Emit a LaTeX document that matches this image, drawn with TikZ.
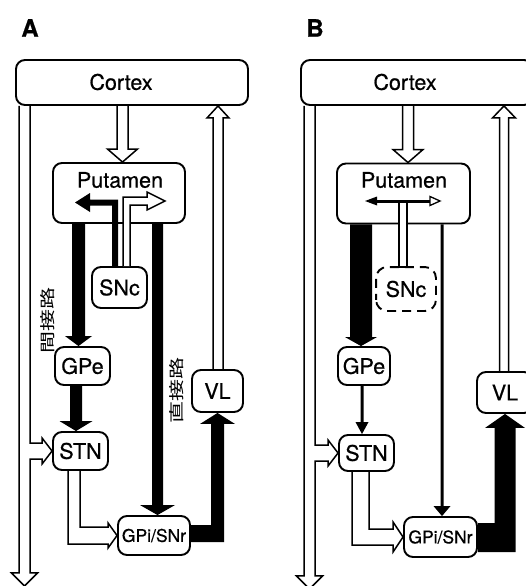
\documentclass[tikz,border=0pt]{standalone}
\usepackage{fontspec}
\setmainfont{TeX Gyre Heros}[FakeBold=0.6]
\newfontfamily\jpfont{Noto Sans CJK JP}
\usetikzlibrary{calc}
\pgfdeclarelayer{bg}
\pgfsetlayers{bg,main}
\newcommand\fsbig{\fontsize{21.5}{21.5}\selectfont}
\newcommand\fssmall{\fontsize{17.5}{17.5}\selectfont}
\tikzset{
  box/.style={draw, line width=1.9pt, rounded corners=9pt, inner sep=0pt, font=\fsbig},
  txt/.style={inner sep=0pt, font=\fsbig},
  hollowline/.style={draw=black, fill=white, line width=1.5pt, line join=miter},
  panlabel/.style={inner sep=0pt, font=\bfseries\fontsize{24}{24}\selectfont},
  jp/.style={inner sep=0pt, rotate=90, font=\jpfont\fontsize{22}{22}\selectfont},
}
\newcommand\hollowarrow[5]{%
  \coordinate (ha-h) at ($(#2)!#5!(#1)$);
  \filldraw[hollowline] ($(#1)!#3!90:(#2)$) -- ($(ha-h)!#3!90:(#2)$) -- ($(ha-h)!#4!90:(#2)$) -- (#2) -- ($(ha-h)!#4!-90:(#2)$) -- ($(ha-h)!#3!-90:(#2)$) -- ($(#1)!#3!-90:(#2)$);}
\newcommand\blackarrow[5]{%
  \coordinate (ba-h) at ($(#2)!#5!(#1)$);
  \fill[black] ($(#1)!#3!90:(#2)$) -- ($(ba-h)!#3!90:(#2)$) -- ($(ba-h)!#4!90:(#2)$) -- (#2) -- ($(ba-h)!#4!-90:(#2)$) -- ($(ba-h)!#3!-90:(#2)$) -- ($(#1)!#3!-90:(#2)$) -- cycle;}
\begin{document}
\begin{tikzpicture}[x=1pt,y=-1pt]
\useasboundingbox (0,0) rectangle (525,586);

% ---------------- Panel A ----------------
\node[panlabel] (labA) at (30,28) {A};
\node[box, minimum width=232pt, minimum height=45pt] (cortA) at (132,82.5) {};
\node[txt] (cortAt) at (121,82) {Cortex};
\node[box, minimum width=132pt, minimum height=60pt] (putA) at (119,193) {};
\node[txt] (putAt) at (120,180) {Putamen};
\node[box, minimum width=55pt, minimum height=41pt] (sncA) at (119.5,287.5) {SNc};
\node[box, minimum width=55pt, minimum height=38pt] (gpeA) at (82.5,366) {GPe};
\node[box, minimum width=55pt, minimum height=38pt] (stnA) at (80.5,451) {STN};
\node[box, minimum width=72pt, minimum height=39pt, font=\fssmall] (gpiA) at (154,535.5) {GPi/SNr};
\node[box, minimum width=51pt, minimum height=42pt] (vlA) at (217.5,391) {VL};
\node[jp] (indA) at (48,320) {\scalebox{1}[0.7]{間接路}};
\node[jp] (dirA) at (177,390) {\scalebox{1}[0.7]{直接路}};

\begin{pgfonlayer}{bg}
% Cortex -> Putamen
\coordinate (xA1) at (122.5,0);
\coordinate (a1s) at (cortA.south -| xA1);
\coordinate (a1t) at (putA.north -| xA1);
\hollowarrow{a1s}{a1t}{5.5pt}{15pt}{13pt}
% VL -> Cortex
\coordinate (xA2) at (218,0);
\coordinate (a2s) at (vlA.north -| xA2);
\coordinate (a2t) at (cortA.south -| xA2);
\hollowarrow{a2s}{a2t}{5pt}{11pt}{12pt}
% trunk with branch to STN
\coordinate (trA) at (24.5,0);
\coordinate (TA) at (cortA.south -| trA);
\filldraw[hollowline] ($(TA)+(-5.5,0)$) -- ($(TA)+(-5.5,467)$) -- ($(TA)+(-13,467)$) -- ($(TA)+(0,480)$) -- ($(TA)+(13,467)$) -- ($(TA)+(5.5,467)$)
  -- ($(stnA.west -| TA)+(5.5,8)$) -- ($(stnA.west)+(-10,8)$) -- ($(stnA.west)+(-10,13)$) -- (stnA.west)
  -- ($(stnA.west)+(-10,-13)$) -- ($(stnA.west)+(-10,-8)$) -- ($(stnA.west -| TA)+(5.5,-8)$) -- ($(TA)+(5.5,0)$);
% Putamen -> GPe
\coordinate (xA3) at (78.5,0);
\coordinate (b1s) at (putA.south -| xA3);
\coordinate (b1t) at (gpeA.north -| xA3);
\blackarrow{b1s}{b1t}{6.5pt}{13.5pt}{10pt}
% GPe -> STN
\coordinate (xA4) at (76,0);
\coordinate (b2s) at (gpeA.south -| xA4);
\coordinate (b2t) at (stnA.north -| xA4);
\blackarrow{b2s}{b2t}{6pt}{16.5pt}{10pt}
% Putamen -> GPi
\coordinate (xA5) at (157.5,0);
\coordinate (b3s) at (putA.south -| xA5);
\coordinate (b3t) at (gpiA.north -| xA5);
\blackarrow{b3s}{b3t}{5.5pt}{17.5pt}{10pt}
% GPi -> VL
\fill[black] ($(gpiA.east)+(0,-10.5)$) -- ($(gpiA.east -| vlA.south)+(-6.5,-10.5)$) -- ($(vlA.south)+(-6.5,11)$) -- ($(vlA.south)+(-17.5,11)$) -- (vlA.south)
  -- ($(vlA.south)+(17.5,11)$) -- ($(vlA.south)+(6.5,11)$) -- ($(gpiA.east -| vlA.south)+(6.5,6.5)$) -- ($(gpiA.east)+(0,6.5)$) -- cycle;
% STN -> GPi
\filldraw[hollowline] ($(stnA.south)+(-12.5,0)$) -- ($(gpiA.west -| stnA.south)+(-12.5,8.5)$) -- ($(gpiA.west)+(-9,8.5)$) -- ($(gpiA.west)+(-9,12.5)$) -- (gpiA.west)
  -- ($(gpiA.west)+(-9,-12.5)$) -- ($(gpiA.west)+(-9,-8.5)$) -- ($(gpiA.west -| stnA.south)+(-0.5,-8.5)$) -- ($(stnA.south)+(-0.5,0)$);
\end{pgfonlayer}
% SNc -> Putamen (inside the box)
\coordinate (dA) at (75,202.5);
\coordinate (eA) at (165,201);
\fill[black] ($(sncA.north)+(-7.5,0)$) -- ($(dA -| sncA.north)+(-7.5,3)$) -- ($(dA)+(15,3)$) -- ($(dA)+(15,9.5)$) -- (dA)
  -- ($(dA)+(15,-9.5)$) -- ($(dA)+(15,-3)$) -- ($(dA -| sncA.north)+(-1.5,-3)$) -- ($(sncA.north)+(-1.5,0)$) -- cycle;
\filldraw[hollowline] ($(sncA.north)+(3.5,0)$) -- ($(eA -| sncA.north)+(3.5,-4)$) -- ($(eA)+(-18,-4)$) -- ($(eA)+(-18,-9)$) -- (eA)
  -- ($(eA)+(-18,9)$) -- ($(eA)+(-18,4)$) -- ($(eA -| sncA.north)+(10.5,4)$) -- ($(sncA.north)+(10.5,0)$);

% ---------------- Panel B ----------------
\node[panlabel] (labB) at (315,28) {B};
\node[box, minimum width=232pt, minimum height=45pt] (cortB) at (417,82.5) {};
\node[txt] (cortBt) at (405,82) {Cortex};
\node[box, minimum width=133pt, minimum height=60pt] (putB) at (403.5,193.5) {};
\node[txt] (putBt) at (404,180) {Putamen};
\node[box, draw=none, minimum width=58pt, minimum height=42pt] (sncB) at (406,289) {SNc};
\draw[line width=1.9pt, rounded corners=11pt, dash pattern=on 9pt off 6pt, dash phase=3pt] (sncB.south west) rectangle (sncB.north east);
\node[box, minimum width=52pt, minimum height=38pt] (gpeB) at (364,366) {GPe};
\node[box, minimum width=55pt, minimum height=36pt] (stnB) at (366.5,453) {STN};
\node[box, minimum width=73pt, minimum height=40pt, font=\fssmall] (gpiB) at (440.5,537) {GPi/SNr};
\node[box, minimum width=56pt, minimum height=41pt] (vlB) at (505,392.5) {VL};

\begin{pgfonlayer}{bg}
\coordinate (xB1) at (408,0);
\coordinate (c1s) at (cortB.south -| xB1);
\coordinate (c1t) at (putB.north -| xB1);
\hollowarrow{c1s}{c1t}{5.5pt}{15pt}{13pt}
\coordinate (xB2) at (504,0);
\coordinate (c2s) at (vlB.north -| xB2);
\coordinate (c2t) at (cortB.south -| xB2);
\hollowarrow{c2s}{c2t}{4.5pt}{11.5pt}{12pt}
\coordinate (trB) at (309.5,0);
\coordinate (TB) at (cortB.south -| trB);
\filldraw[hollowline] ($(TB)+(-5.5,0)$) -- ($(TB)+(-5.5,470)$) -- ($(TB)+(-13,470)$) -- ($(TB)+(0,483)$) -- ($(TB)+(13,470)$) -- ($(TB)+(5.5,470)$)
  -- ($(stnB.west -| TB)+(5.5,8)$) -- ($(stnB.west)+(-10,8)$) -- ($(stnB.west)+(-10,13)$) -- (stnB.west)
  -- ($(stnB.west)+(-10,-13)$) -- ($(stnB.west)+(-10,-8)$) -- ($(stnB.west -| TB)+(5.5,-8)$) -- ($(TB)+(5.5,0)$);
\coordinate (xB3) at (361,0);
\coordinate (d1s) at (putB.south -| xB3);
\coordinate (d1t) at (gpeB.north -| xB3);
\blackarrow{d1s}{d1t}{11pt}{16pt}{9pt}
\coordinate (xB4) at (362,0);
\coordinate (d2s) at (gpeB.south -| xB4);
\coordinate (d2t) at (stnB.north -| xB4);
\blackarrow{d2s}{d2t}{1.5pt}{6.5pt}{12pt}
\coordinate (xB5) at (442,0);
\coordinate (d3s) at (putB.south -| xB5);
\coordinate (d3t) at (gpiB.north -| xB5);
\blackarrow{d3s}{d3t}{1.5pt}{8.5pt}{10pt}
\fill[black] ($(gpiB.east)+(0,-14)$) -- ($(gpiB.east -| vlB.south)+(-10.5,-14)$) -- ($(vlB.south)+(-10.5,14)$) -- ($(vlB.south)+(-20,14)$) -- (vlB.south)
  -- ($(vlB.south)+(20,14)$) -- ($(vlB.south)+(10.5,14)$) -- ($(gpiB.east -| vlB.south)+(10.5,15)$) -- ($(gpiB.east)+(0,15)$) -- cycle;
\filldraw[hollowline] ($(stnB.south)+(-14.5,0)$) -- ($(gpiB.west -| stnB.south)+(-14.5,8)$) -- ($(gpiB.west)+(-10,8)$) -- ($(gpiB.west)+(-10,15)$) -- (gpiB.west)
  -- ($(gpiB.west)+(-10,-15)$) -- ($(gpiB.west)+(-10,-8)$) -- ($(gpiB.west -| stnB.south)+(2.5,-8)$) -- ($(stnB.south)+(2.5,0)$);
\end{pgfonlayer}
\coordinate (dB) at (365,201);
\coordinate (eB) at (440,201);
\filldraw[hollowline, line width=1.2pt] ($(sncB.north)+(-7,0)$) rectangle ($(dB -| sncB.north)+(1,0)$);
\draw[line width=3pt] ($(dB)+(11,0)$) -- ($(eB)+(-9,0)$);
\fill[black] (dB) -- ($(dB)+(12,-4.5)$) -- ($(dB)+(12,4.5)$) -- cycle;
\filldraw[fill=white, draw=black, line width=1.3pt] (eB) -- ($(eB)+(-10,-4.5)$) -- ($(eB)+(-10,4.5)$) -- cycle;
\end{tikzpicture}
\end{document}
